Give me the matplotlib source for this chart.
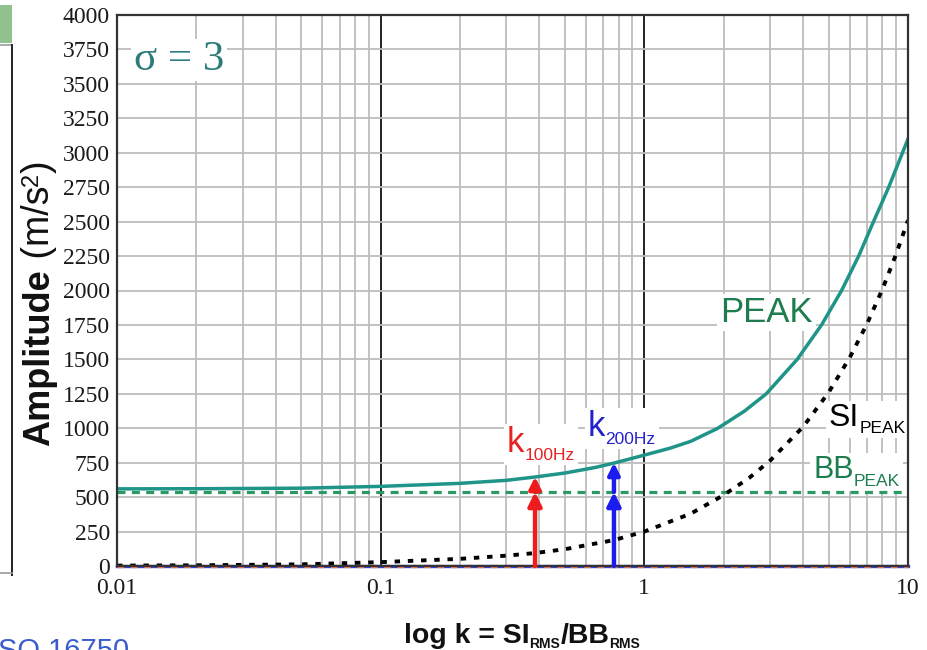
import matplotlib
matplotlib.use('Agg')
import matplotlib.pyplot as plt
from matplotlib.patches import Rectangle
from matplotlib.lines import Line2D
from matplotlib.transforms import IdentityTransform

# --- datos ---
peak_k = [0.01, 0.02, 0.05, 0.1, 0.2, 0.3, 0.385, 0.5, 0.65, 0.767, 1, 1.25,
          1.5, 1.9, 2.4, 2.9, 3.8, 4.7, 5.6, 6.5, 7.4, 8.45, 10]
peak = [560, 561, 565, 578, 600, 622, 646, 675, 715, 747, 805, 855,
        905, 1000, 1125, 1250, 1500, 1750, 2000, 2250, 2500, 2750, 3100]

si_k = [0.01, 0.02, 0.05, 0.1, 0.2, 0.3, 0.385, 0.5, 0.767, 1, 1.5, 2,
        2.5, 3, 4, 5, 6, 7, 8, 9, 10]
si_peak = [3, 5, 12, 28, 52, 75, 94, 122, 188, 250, 380, 515,
           640, 765, 1010, 1260, 1510, 1760, 2010, 2260, 2510]

bb_peak = 537

arrow_k = [0.385, 0.767]          # k_100Hz, k_200Hz
arrow_top = [648, 750]
arrow_colors = ['#ee1c1c', '#1c1cee']

y_ticks = list(range(0, 4001, 250))
x_ticks = [0.01, 0.1, 1, 10]
x_labels = ['0.01', '0.1', '1', '10']

W, H = 927, 650
TEAL = '#1f9488'
GREEN = '#1e7d4e'

fig = plt.figure(figsize=(W / 100, H / 100), dpi=100)
ax = fig.add_axes([117 / W, 1 - 566 / H, (908 - 117) / W, (566 - 15) / H])
ax.set_xscale('log')
ax.set_xlim(0.01, 10)
ax.set_ylim(0, 4000)
ax.set_axisbelow(True)

ax.set_yticks(y_ticks)
ax.set_yticklabels([str(v) for v in y_ticks])
ax.set_xticks(x_ticks)
ax.set_xticklabels(x_labels)
ax.tick_params(which='both', length=0)
ax.tick_params(axis='y', pad=5)
ax.tick_params(axis='x', pad=9)
for lab in ax.get_xticklabels() + ax.get_yticklabels():
    lab.set_fontfamily('Liberation Serif')
    lab.set_fontsize(17)
    lab.set_color('#1a1a1a')

ax.grid(True, which='minor', axis='x', color='#bdbdbd', lw=1.3)
ax.grid(True, which='major', axis='x', color='#222222', lw=1.4)
ax.grid(True, which='major', axis='y', color='#bdbdbd', lw=1.3)
for s in ax.spines.values():
    s.set_color('#333333')
    s.set_linewidth(1.6)

# curvas
ax.axhline(0, color='#3344dd', lw=2.4, zorder=2, clip_on=False)
ax.axhline(0, color='#f07a5a', lw=2.4, ls=(0, (2, 2)), zorder=2.1, clip_on=False)
ax.axhline(bb_peak, color='#2a9a62', lw=2.3, ls=(0, (2.5, 2)), zorder=2)
ax.plot(si_k, si_peak, color='black', lw=2.8, ls=(0, (1.4, 2.0)), zorder=2.2)
ax.plot(peak_k, peak, color=TEAL, lw=2.5, zorder=2.4, solid_joinstyle='round')

# flechas
for k, top, c in zip(arrow_k, arrow_top, arrow_colors):
    ax.annotate('', xy=(k, bb_peak), xytext=(k, 0),
                arrowprops=dict(arrowstyle='-|>', color=c, lw=3.2,
                                mutation_scale=20, shrinkA=0, shrinkB=0),
                zorder=2.6, annotation_clip=False)
    ax.annotate('', xy=(k, top), xytext=(k, bb_peak),
                arrowprops=dict(arrowstyle='-|>', color=c, lw=3.2,
                                mutation_scale=17, shrinkA=0, shrinkB=0),
                zorder=2.6)

fig.canvas.draw()
renderer = fig.canvas.get_renderer()


def chain(parts, x, y, rotation=0, box=False, target=None):
    """Escribe varios trozos de texto seguidos (texto + subindice)."""
    target = target or ax
    xd, yd = x, H - y
    boxes = []
    for s, kw, dy in parts:
        if rotation == 0:
            pos = (xd, yd - dy)
        else:
            pos = (xd + dy, yd)
        t = target.text(pos[0], pos[1], s, transform=IdentityTransform(),
                        ha='left', va='baseline', rotation=rotation,
                        rotation_mode='anchor', zorder=1.2, **kw)
        bb = t.get_window_extent(renderer)
        boxes.append(bb)
        if rotation == 0:
            xd = bb.x1
        else:
            yd = bb.y1
    if box:
        x0 = min(b.x0 for b in boxes) - 3
        x1 = max(b.x1 for b in boxes) + 3
        y0 = min(b.y0 for b in boxes) - 2
        y1 = max(b.y1 for b in boxes) + 2
        target.add_patch(Rectangle((x0, y0), x1 - x0, y1 - y0, transform=IdentityTransform(),
                                   fc='white', ec='none', zorder=1.1))


sans = dict(family='Liberation Sans')
# etiquetas dentro del grafico
chain([('\u03c3 = 3', dict(family='Liberation Serif', size=31, color='#2b7c7a'), 0)],
      134, 70, box=True)
chain([('PEAK', dict(size=25, color=GREEN, **sans), 0)], 720, 322, box=True)
chain([('SI', dict(size=23, color='black', **sans), 0),
       ('PEAK', dict(size=12.5, color='black', **sans), 7)], 829, 426, box=True)
chain([('BB', dict(size=22, color=GREEN, **sans), 0),
       ('PEAK', dict(size=12.5, color=GREEN, **sans), 8)], 813, 478, box=True)
chain([('k', dict(size=25, color='#e82222', **sans), 0),
       ('100Hz', dict(size=12.5, color='#e82222', **sans), 8)], 507, 452, box=True)
chain([('k', dict(size=25, color='#2222cc', **sans), 0),
       ('200Hz', dict(size=12.5, color='#2222cc', **sans), 8)], 588, 436, box=True)

# ejes
bold = dict(family='Liberation Sans', weight='bold', color='#111111')
reg = dict(family='Liberation Sans', color='#111111')
chain([('log k = SI', dict(size=20.5, **bold), 0),
       ('RMS', dict(size=10, **bold), 5),
       ('/BB', dict(size=20.5, **bold), 0),
       ('RMS', dict(size=10, **bold), 5)], 404, 643, target=fig)
chain([('Amplitude', dict(size=26, **bold), 0),
       (' (m/s', dict(size=27, **reg), 0),
       ('2', dict(size=17, **reg), -11),
       (')', dict(size=27, **reg), 0)],
      49, 446, rotation=90, target=fig)

# restos de la diapositiva a la izquierda
fig.add_artist(Rectangle((0, 1 - 43 / H), 12 / W, 38 / H, transform=fig.transFigure,
                         fc='#8fc28c', ec='none'))
fig.add_artist(Line2D([0, 12 / W], [1 - 45 / H, 1 - 45 / H], transform=fig.transFigure,
                      color='#9a9a9a', lw=1.2))
fig.add_artist(Line2D([12 / W, 12 / W], [1 - 45 / H, 1 - 575 / H], transform=fig.transFigure,
                      color='#222222', lw=1.4))
fig.add_artist(Line2D([0, 12 / W], [1 - 573 / H, 1 - 573 / H], transform=fig.transFigure,
                      color='#9a9a9a', lw=1.2))
fig.text(-10 / W, 1 - 637 / H, 'ISO 16750', color='#3a5ccc', fontsize=21,
         family='Liberation Sans', va='top', ha='left')

fig.savefig('out.png', dpi=100)
